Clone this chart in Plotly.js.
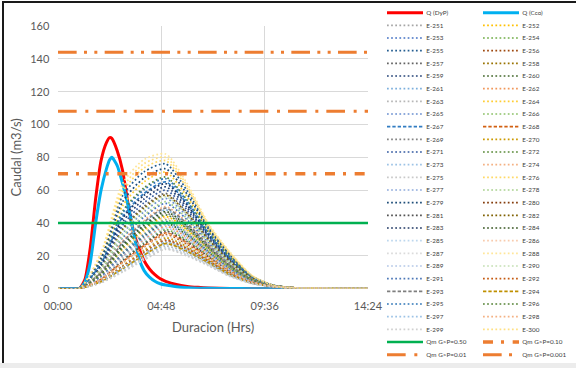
<!DOCTYPE html>
<html>
<head>
<meta charset="utf-8">
<script src="https://cdn.plot.ly/plotly-3.0.1.min.js"></script>
<style>
  html, body { margin:0; padding:0; background:#ffffff; width:576px; height:368px; overflow:hidden; }
  #wrap { position:absolute; left:0; top:0; width:864px; height:552px; transform:scale(0.6666667); transform-origin:0 0; }
  #chart { width:864px; height:552px; }
  .frameTop { position:absolute; left:2px; top:1px; width:574px; height:2px; background:#1a1a1a; }
  .frameLeft { position:absolute; left:2px; top:1px; width:2px; height:362px; background:#1a1a1a; }
  .bandBottom { position:absolute; left:0; top:363px; width:576px; height:5px; background:#ececec; }
</style>
</head>
<body>
<div id="wrap"><div id="chart"></div></div>
<div class="frameTop"></div>
<div class="frameLeft"></div>
<div class="bandBottom"></div>
<script>
// ---------------- DATA ----------------
const xTickVals = [0, 4.8, 9.6, 14.4];
const xTickText = ['00:00', '04:48', '09:36', '14:24'];

// Main hydrographs (hours, m3/s)
const qHours = [0, 0.5, 1, 1.25, 1.5, 1.75, 2, 2.25, 2.4, 2.5, 2.75, 3, 3.25, 3.5, 3.75, 4, 4.25, 4.5, 4.75, 5, 5.5, 6, 6.5, 7, 8, 9, 10.5];
const qDyP   = [0, 0, 0.2, 5.5, 25, 55, 78, 89, 92, 91.5, 84, 72, 52, 35, 25, 17, 12, 8.5, 6, 4.5, 2.5, 1.4, 0.8, 0.4, 0.1, 0, 0];
const qCco   = [0, 0, 0.2, 4, 16, 40, 60, 73, 78.5, 80, 75, 64, 51, 35, 19, 11, 7, 4.5, 3, 2.2, 1.2, 0.6, 0.3, 0.2, 0.1, 0, 0];

// Sub-basin hydrographs E-251 ... E-300
const eHours = [0, 1, 2, 3, 4, 5, 6, 7, 8, 9, 10, 11, 12, 14.4];
const eNames = ['E-251','E-252','E-253','E-254','E-255','E-256','E-257','E-258','E-259','E-260',
                'E-261','E-262','E-263','E-264','E-265','E-266','E-267','E-268','E-269','E-270',
                'E-271','E-272','E-273','E-274','E-275','E-276','E-277','E-278','E-279','E-280',
                'E-281','E-282','E-283','E-284','E-285','E-286','E-287','E-288','E-289','E-290',
                'E-291','E-292','E-293','E-294','E-295','E-296','E-297','E-298','E-299','E-300'];
const eValues = [
  [0,0.1,4.9,13.7,22.6,30,24.8,17.1,9.2,3.8,1.4,0.5,0.3,0.2],
  [0,0.1,8.4,23.9,35.6,44,35.8,24.0,13.0,5.3,1.8,0.5,0.3,0.2],
  [0,0.1,10.8,30.9,43.7,52,41.9,27.7,15.1,6.0,2.0,0.5,0.3,0.2],
  [0,0.1,6.3,17.8,28.0,36,29.5,20.1,10.9,4.5,1.6,0.5,0.3,0.2],
  [0,0.1,19.6,56.5,71.2,76,59.7,37.2,20.8,7.8,2.0,0.5,0.3,0.2],
  [0,0.1,5.6,15.7,25.3,33,27.1,18.6,10.0,4.1,1.5,0.5,0.3,0.2],
  [0,0.1,12.8,36.6,50.2,58,46.4,30.2,16.6,6.5,2.0,0.5,0.3,0.2],
  [0,0.1,4.4,12.5,20.9,28,23.1,16.1,8.6,3.6,1.4,0.5,0.3,0.2],
  [0,0.1,14.2,40.7,54.6,62,49.4,31.9,17.6,6.8,2.0,0.5,0.3,0.2],
  [0,0.1,7.3,20.8,31.7,40,32.6,22.1,12.0,4.9,1.7,0.5,0.3,0.2],
  [0,0.1,9.6,27.3,39.6,48,38.8,25.9,14.1,5.7,1.9,0.5,0.3,0.2],
  [0,0.1,6.8,19.3,29.8,38,31.1,21.1,11.4,4.7,1.7,0.5,0.3,0.2],
  [0,0.1,4.0,11.2,19.2,26,21.5,15.0,8.0,3.4,1.3,0.4,0.3,0.2],
  [0,0.1,17.5,50.5,65.1,71,56.1,35.4,19.7,7.5,2.0,0.5,0.3,0.2],
  [0,0.1,11.8,33.7,46.9,55,44.2,29.0,15.9,6.3,2.0,0.5,0.3,0.2],
  [0,0.1,7.9,22.3,33.6,42,34.2,23.1,12.5,5.1,1.8,0.5,0.3,0.2],
  [0,0.1,15.3,43.8,58.0,65,51.7,33.1,18.3,7.0,2.0,0.5,0.3,0.2],
  [0,0.1,5.8,16.4,26.2,34,27.9,19.1,10.3,4.2,1.6,0.5,0.3,0.2],
  [0,0.1,9.0,25.6,37.6,46,37.3,24.9,13.6,5.5,1.9,0.5,0.3,0.2],
  [0,0.1,5.1,14.4,23.5,31,25.5,17.6,9.5,3.9,1.5,0.5,0.3,0.2],
  [0,0.1,13.5,38.6,52.4,60,47.9,31.1,17.1,6.6,2.0,0.5,0.3,0.2],
  [0,0.1,16.4,47.1,61.5,68,53.9,34.3,19.0,7.3,2.0,0.5,0.3,0.2],
  [0,0.1,4.2,11.8,20.0,27,22.3,15.5,8.3,3.5,1.3,0.4,0.3,0.2],
  [0,0.1,10.2,29.1,41.6,50,40.4,26.8,14.6,5.9,1.9,0.5,0.3,0.2],
  [0,0.1,3.6,10.1,17.5,24,19.9,13.9,7.4,3.1,1.2,0.4,0.3,0.2],
  [0,0.1,20.4,58.9,73.6,78,61.1,38.0,21.2,8.0,2.0,0.5,0.3,0.2],
  [0,0.1,7.1,20.0,30.8,39,31.9,21.6,11.7,4.8,1.7,0.5,0.3,0.2],
  [0,0.1,11.1,31.8,44.8,53,42.7,28.1,15.4,6.1,2.0,0.5,0.3,0.2],
  [0,0.1,18.4,52.9,67.5,73,57.5,36.2,20.2,7.7,2.0,0.5,0.3,0.2],
  [0,0.1,4.6,13.1,21.7,29,24.0,16.6,8.9,3.7,1.4,0.5,0.3,0.2],
  [0,0.1,6.1,17.1,27.1,35,28.7,19.6,10.6,4.3,1.6,0.5,0.3,0.2],
  [0,0.1,12.4,35.6,49.1,57,45.7,29.8,16.4,6.5,2.0,0.5,0.3,0.2],
  [0,0.1,14.9,42.8,56.9,64,50.9,32.7,18.1,7.0,2.0,0.5,0.3,0.2],
  [0,0.1,9.3,26.4,38.6,47,38.1,25.4,13.8,5.6,1.9,0.5,0.3,0.2],
  [0,0.1,3.8,10.7,18.3,25,20.7,14.5,7.7,3.2,1.2,0.4,0.3,0.2],
  [0,0.1,8.1,23.1,34.6,43,35.0,23.5,12.8,5.2,1.8,0.5,0.3,0.2],
  [0,0.1,5.3,15.0,24.4,32,26.3,18.1,9.7,4.0,1.5,0.5,0.3,0.2],
  [0,0.1,22.1,64.0,78.7,82,64.0,39.4,22.1,8.2,2.0,0.5,0.3,0.2],
  [0,0.1,6.5,18.5,28.9,37,30.3,20.6,11.1,4.6,1.6,0.5,0.3,0.2],
  [0,0.1,12.1,34.6,48.0,56,44.9,29.4,16.1,6.4,2.0,0.5,0.3,0.2],
  [0,0.1,7.6,21.5,32.7,41,33.4,22.6,12.2,5.0,1.8,0.5,0.3,0.2],
  [0,0.1,4.8,13.4,22.1,29.5,24.4,16.9,9.0,3.7,1.4,0.5,0.3,0.2],
  [0,0.1,9.9,28.2,40.6,49,39.6,26.3,14.4,5.8,1.9,0.5,0.3,0.2],
  [0,0.1,4.3,12.2,20.5,27.5,22.7,15.8,8.5,3.5,1.3,0.4,0.3,0.2],
  [0,0.1,16.0,46.0,60.3,67,53.1,33.9,18.8,7.2,2.0,0.5,0.3,0.2],
  [0,0.1,8.7,24.8,36.6,45,36.5,24.5,13.3,5.4,1.9,0.5,0.3,0.2],
  [0,0.1,4.5,12.8,21.3,28.5,23.6,16.3,8.7,3.6,1.4,0.5,0.3,0.2],
  [0,0.1,5.7,16.0,25.7,33.5,27.5,18.9,10.2,4.2,1.5,0.5,0.3,0.2],
  [0,0.1,3.7,10.4,17.9,24.5,20.3,14.2,7.6,3.2,1.2,0.4,0.3,0.2],
  [0,0.1,21.3,61.4,76.2,80,62.5,38.7,21.7,8.0,2.0,0.5,0.3,0.2]
];

// Threshold flows (Qm)
const qmNames  = ['Qm G>P=0.50', 'Qm G>P=0.10', 'Qm G>P=0.01', 'Qm G>P=0.001'];
const qmValues = [40, 70, 108, 144];
const qmSpan   = [0, 14.4];

// ---------------- STYLES ----------------
const eColors = ['#A5A5A5','#FFC000','#4472C4','#70AD47','#255E91','#9E480E','#636363','#997300','#264478','#43682B',
                 '#7CAFDD','#F1975A','#B7B7B7','#FFCD33','#698ED0','#8CC168','#327DC2','#D26012','#848484','#CC9A00',
                 '#335AA1','#5A8A39','#9DC3E6','#F4B183','#C9C9C9','#FFD966','#8FAADC','#A9D18E','#1F4E79','#843C0C',
                 '#525252','#7F6000','#203864','#385723','#BDD7EE','#F8CBAD','#DBDBDB','#FFE699','#B4C7E7','#C5E0B4',
                 '#4E79B8','#C55A11','#7F7F7F','#BF9000','#2E75B6','#548235','#9DC3E6','#F4B183','#D0D0D0','#FFE082'];
const dashedSet = {'E-267':1, 'E-268':1, 'E-293':1, 'E-294':1};
const qmStyles = [
  {color:'#00B050', width:3.75, dash:'solid'},
  {color:'#ED7D31', width:5, dash:'15px,12px,4.5px,13px'},
  {color:'#ED7D31', width:4.5, dash:'28px,13px,4.5px,12px'},
  {color:'#ED7D31', width:4.5, dash:'28px,11px,4.5px,11px,4.5px,11px'}
];

const FONT = 'Lato, "Open Sans", "DejaVu Sans", sans-serif';

// ---------------- TRACES ----------------
const traces = [];
traces.push({x:qHours, y:qDyP, name:'Q (DyP)', type:'scatter', mode:'lines',
  line:{color:'#FF0000', width:4.5, shape:'spline', smoothing:0.6}, legend:'legend'});
traces.push({x:qHours, y:qCco, name:'Q (Cco)', type:'scatter', mode:'lines',
  line:{color:'#00B0F0', width:4.5, shape:'spline', smoothing:0.6}, legend:'legend2'});
eNames.forEach(function(n, i){
  traces.push({x:eHours, y:eValues[i], name:n, type:'scatter', mode:'lines',
    line:{color:eColors[i], width:2.6, shape:'spline', smoothing:0.7,
          dash: dashedSet[n] ? '5px,3px' : '2.6px,3.6px'},
    legend: (i % 2 === 0) ? 'legend' : 'legend2'});
});
qmNames.forEach(function(n, i){
  traces.push({x:qmSpan, y:[qmValues[i], qmValues[i]], name:n, type:'scatter', mode:'lines',
    line:qmStyles[i], legend: (i % 2 === 0) ? 'legend' : 'legend2'});
});

const legendCommon = {
  xref:'container', yref:'container', xanchor:'left', yanchor:'top',
  bgcolor:'rgba(0,0,0,0)', borderwidth:0, tracegroupgap:0, itemwidth:54,
  font:{family:FONT, size:9.5, color:'#404040'}, maxheight:600, orientation:'v'
};

const layout = {
  width:864, height:552,
  margin:{l:87, r:312, t:39, b:118.5, autoexpand:false},
  paper_bgcolor:'#ffffff', plot_bgcolor:'#ffffff',
  font:{family:FONT, color:'#595959'},
  showlegend:true,
  legend: Object.assign({}, legendCommon, {x:575.5/864, y:1 - 4.5/552}),
  legend2: Object.assign({}, legendCommon, {x:719.5/864, y:1 - 4.5/552}),
  xaxis:{
    range:[0, 14.4], tickvals:xTickVals, ticktext:xTickText,
    showgrid:true, gridcolor:'#d9d9d9', gridwidth:1.5, zeroline:false, showline:false,
    ticks:'', tickfont:{family:FONT, size:16.5, color:'#595959'}, ticklabelstandoff:15,
    title:{text:'Duracion (Hrs)', font:{family:FONT, size:19.5, color:'#595959'}, standoff:16}
  },
  yaxis:{
    range:[0, 160], dtick:20, tick0:0,
    showgrid:true, gridcolor:'#d9d9d9', gridwidth:1.5, zeroline:false, showline:false,
    ticks:'', tickfont:{family:FONT, size:16.5, color:'#595959'}, ticklabelstandoff:12,
    title:{text:'Caudal (m3/s)', font:{family:FONT, size:19.5, color:'#595959'}, standoff:8}
  }
};

Plotly.newPlot('chart', traces, layout, {displayModeBar:false, staticPlot:true});
</script>
</body>
</html>
